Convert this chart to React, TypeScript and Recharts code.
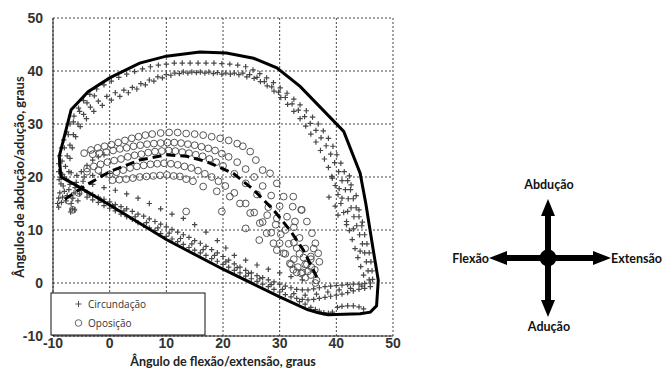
import { ScatterChart, Scatter, XAxis, YAxis, CartesianGrid } from 'recharts';

type Pt = [number, number];

const xTicks = [-10, 0, 10, 20, 30, 40, 50];
const yTicks = [-10, 0, 10, 20, 30, 40, 50];

// Circundação (+) bands
const circOuter: Pt[] = [
  [-8.9, 19.5], [-9, 21], [-9, 22.5], [-8.8, 24], [-8.5, 25.5], [-8.1, 27], [-7.6, 28.5], [-7, 30],
  [-6.3, 31.5], [-5.5, 33], [-4.6, 34.4], [-3.5, 35.6], [-2.3, 36.6], [-1, 37.4], [0.3, 38.1], [1.6, 38.8],
  [3, 39.4], [4.4, 39.9], [5.8, 40.4], [7.2, 40.8], [8.6, 41.1], [10, 41.3], [11.4, 41.5], [12.8, 41.5],
  [14.2, 41.5], [15.6, 41.5], [17, 41.5], [18.4, 41.5], [19.8, 41.4], [21.2, 41.3], [22.6, 41.1], [24, 40.8],
  [25.3, 40.2], [26.5, 39.5], [27.7, 38.7], [28.9, 37.8], [30.1, 36.8], [31.3, 35.8], [32.5, 34.7],
  [33.6, 33.6], [34.7, 32.5], [35.8, 31.3], [36.8, 30], [37.7, 28.7], [38.6, 27.3], [39.4, 25.8],
  [40.1, 24.2], [40.8, 22.6], [41.4, 21], [42, 19.3], [42.5, 17.6], [43, 15.9], [43.5, 14.2], [44, 12.5],
  [44.5, 10.8], [45, 9.1], [45.4, 7.4], [45.8, 5.7], [46.1, 4], [46.3, 2.3], [46.4, 0.7],
];

const circOuter2: Pt[] = [
  [-8.3, 20.5], [-8.4, 23], [-8, 25.5], [-7.3, 28], [-6.4, 30.4], [-5.3, 32.4], [-4, 34], [-2.7, 35.3],
  [26, 38.8], [27.3, 38], [28.6, 37], [29.8, 36], [31, 35], [32.2, 33.8], [33.3, 32.6], [34.4, 31.4],
  [35.4, 30.1], [36.4, 28.8], [37.3, 27.4], [38.2, 25.9], [39, 24.3], [39.7, 22.7], [40.4, 21], [41, 19.3],
  [41.6, 17.6], [42.1, 15.9], [42.6, 14.2], [43.1, 12.5], [43.6, 10.8], [44.1, 9.1], [44.6, 7.4], [45, 5.7],
  [45.3, 4], [45.6, 2.3], [45.8, 0.6],
];

const circInner: Pt[] = [
  [-8, 20], [-7.8, 22], [-7.5, 24], [-7, 26], [-6.4, 28], [-5.6, 30], [-4.6, 31.8], [-3.4, 33.2],
  [-2, 34.3], [-0.5, 35.2], [1, 35.9], [2.5, 36.4], [4, 36.9], [5.5, 37.6], [7, 38.3], [8.5, 38.9],
  [10, 39.3], [11.5, 39.6], [13, 39.8], [14.5, 39.8], [16, 39.8], [17.5, 39.8], [19, 39.7], [20.5, 39.6],
  [22, 39.6], [23.5, 39.6], [24.7, 39.3], [25.5, 38.6], [26.6, 38], [27.8, 37.2], [29, 36.2], [30.2, 35],
  [31.4, 33.7], [32.5, 32.4], [33.6, 31], [34.6, 29.6], [35.5, 28.1], [36.4, 26.6], [37.2, 25],
  [37.9, 23.4], [38.6, 21.8], [39.2, 20.1], [39.8, 18.4], [40.3, 16.7], [40.8, 15], [41.3, 13.3],
  [41.8, 11.6], [42.3, 9.9], [42.8, 8.2], [43.3, 6.5], [43.8, 4.8], [44.3, 3.1], [44.8, 1.5],
];

const circInner2: Pt[] = [
  [-7.2, 21], [-7, 23.5], [-6.6, 25.5], [-6, 27.6], [-5.2, 29.5], [-4.1, 31], [-2.8, 32.4], [-1.3, 33.5],
  [0.3, 34.5], [1.8, 35.2], [3.3, 35.9], [4.8, 36.6], [6.3, 37.4], [7.8, 38.1], [9.3, 38.7], [10.8, 39.2],
  [12.3, 39.5], [13.8, 39.6], [15.3, 39.7], [16.8, 39.6], [18.3, 39.5], [19.8, 39.4], [21.3, 39.4],
  [22.8, 39.3], [24.2, 38.9],
];

const circRightLoose: Pt[] = [
  [41, 16], [42, 13.5], [43.5, 16.5], [42.6, 18.5], [44, 13.8], [41.8, 11], [40.5, 17.8], [43, 10.2],
  [44.2, 6], [42.3, 20.2], [39.8, 14.5], [40.3, 12.8], [38.7, 16.2], [39.3, 19.8], [44.6, 11.5],
];

const circThin: Pt[] = [
  [-3, 18.6], [-1, 18], [1, 17.5], [3, 16.8], [5, 16], [7, 15], [9, 14], [11, 13], [13, 12.2], [15, 11],
  [17, 9.6], [19, 8], [20.5, 6.6], [22, 5.2], [24, 4.3], [26, 3.4], [28, 2.6], [30, 1.9], [32, 1.2],
  [34, 0.6],
];

const circLowA: Pt[] = [
  [-5, 17.6], [-4, 17.1], [-3, 16.7], [-2, 16.2], [-1, 15.8], [0, 15.3], [1, 14.8], [2, 14.4], [3, 14],
  [4, 13.5], [5, 13], [6, 12.6], [7, 12.1], [8, 11.6], [9, 11.1], [10, 10.6], [11, 10.1], [12, 9.6],
  [13, 9.1], [14, 8.6], [15, 8], [16, 7.5], [17, 6.9], [18, 6.3], [19, 5.7], [20, 5], [21, 4.3], [22, 3.6],
  [23, 3], [24, 2.4], [25, 1.9], [26, 1.4], [27, 1], [28, 0.6], [29, 0.2], [30, -0.2], [31, -0.6],
  [32, -0.9], [33, -1.2], [34, -1.3], [35, -1.3], [36, -1.1], [37, -0.9], [38, -0.7], [39, -0.6],
  [40, -0.5], [41, -0.4], [42, -0.3], [43, -0.2], [44, -0.2], [45, -0.1], [46, 0],
];

const circLowB: Pt[] = [
  [-4, 16.2], [-3, 15.7], [-2, 15.2], [-1, 14.6], [0, 14.1], [1, 13.6], [2, 13], [3, 12.5], [4, 12],
  [5, 11.4], [6, 10.9], [7, 10.4], [8, 9.9], [9, 9.3], [10, 8.8], [11, 8.3], [12, 7.8], [13, 7.3],
  [14, 6.7], [15, 6.2], [16, 5.7], [17, 5.2], [18, 4.6], [19, 4.1], [20, 3.5], [21, 3], [22, 2.4],
  [23, 1.9], [24, 1.3], [25, 0.8], [26, 0.3], [27, -0.2], [28, -0.7], [29, -1.2], [30, -1.7], [31, -2.2],
  [32, -2.6], [33, -2.9], [34, -3.1], [35, -3.2], [36, -3.1], [37, -2.9], [38, -2.7], [39, -2.5],
  [40, -2.3], [41, -2.1], [42, -1.8], [43, -1.5], [44, -1.2], [45, -1], [46, -0.7],
];

const circLowC: Pt[] = [
  [-3.5, 16.6], [-1.5, 15.6], [0.5, 14.6], [2.5, 13.6], [4.5, 12.5], [6.5, 11.4], [8.5, 10.4],
  [10.5, 9.4], [12.5, 8.4], [14.5, 7.4], [16.5, 6.3], [18.5, 5.2], [20.5, 4], [22.5, 2.9], [24.5, 1.8],
  [26.5, 0.8], [28.5, -0.3], [30.5, -1.2], [32.5, -2], [34.5, -2.3], [36.5, -2.1], [38.5, -1.7],
  [40.5, -1.3], [42.5, -1], [44.5, -0.6],
];

const circBottom: Pt[] = [
  [40.2, -4.6], [41, -4.4], [42, -4.3], [43, -4.3], [44, -4.5], [44.8, -4.9], [35.5, -4.6], [36.3, -5],
  [37, -5.3], [37.8, -5.6], [38.6, -5.7], [39.3, -5.5], [34.5, -4], [33.5, -3.5],
];

const circBlob: Pt[] = [
  [-9.2, 15], [-9, 16], [-8.8, 17], [-8.5, 15.2], [-8.3, 16.2], [-8, 17.3], [-8.2, 18.3], [-7.7, 15.5],
  [-7.5, 16.5], [-7.2, 17.6], [-7, 18.6], [-6.8, 15], [-6.5, 16], [-6.3, 17], [-6.1, 18], [-5.9, 19],
  [-6.6, 14], [-6.9, 13.4], [-6.2, 13.8], [-5.6, 15.5], [-5.3, 16.8], [-5, 18], [-4.7, 19.2],
  [-5.8, 20.3], [-6.8, 20.8], [-7.6, 19.6], [-8.6, 18.7], [-9, 14.3], [-5, 21], [-4, 22.2], [-3, 23.2],
  [-2, 23.8], [-1, 24.2], [-4.5, 20], [-3, 20.3], [-1.5, 20.5], [0, 20.7],
];

// Oposição (o) arcs
const opArc1: Pt[] = [
  [-4.5, 24.5], [-3.3, 25.1], [-2.1, 25.5], [-0.9, 25.8], [0.3, 26.1], [1.5, 26.5], [2.7, 26.9],
  [3.9, 27.3], [5.1, 27.6], [6.3, 27.9], [7.5, 28.1], [9, 28.3], [10.5, 28.4], [12, 28.4], [13.5, 28.2],
  [15, 28.1], [16.5, 27.9], [18, 27.6], [19.5, 27.3], [21, 26.9], [22.5, 26.3], [23.5, 25.8],
  [24.8, 24.8], [25.8, 23.2], [27, 21.3], [28.3, 20.7], [29.5, 18.8], [30.7, 16.3], [32.4, 16.3],
  [33.9, 13.8], [34.8, 11.6], [35.7, 9.4], [36.3, 7.5], [36.8, 5.6], [37, 4],
];

const opArc2: Pt[] = [
  [-3, 24.3], [-1.8, 24.5], [-0.6, 24.7], [0.6, 25], [1.8, 25.3], [3, 25.5], [4.2, 25.8], [5.4, 26],
  [6.6, 26.2], [7.8, 26.3], [9, 26.4], [10.2, 26.5], [11.4, 26.5], [12.6, 26.4], [13.8, 26.2], [15, 26],
  [16.2, 25.7], [17.4, 25.4], [18.6, 25], [19.8, 24.4], [21, 23.8], [22.5, 22.8], [24, 21.5], [25.5, 20],
  [27, 18.3], [28.5, 16.5], [30, 14.5], [31.3, 12.5], [32.5, 10.5], [33.5, 8.5], [34.5, 6.5], [35.5, 4.5],
  [36.2, 2.5], [36.5, 0.5],
];

const opArc3: Pt[] = [
  [-4, 21.6], [-2.8, 22], [-1.6, 22.4], [-0.4, 22.8], [0.8, 23.1], [2, 23.4], [3.2, 23.8], [4.4, 24.1],
  [5.6, 24.3], [6.8, 24.6], [8, 24.8], [9.2, 24.9], [10.4, 25], [11.6, 24.9], [12.8, 24.7], [14, 24.5],
  [15.2, 24.2], [16.4, 23.9], [17.6, 23.4], [18.8, 22.8], [20, 22.1], [22, 20.6], [24, 18.8], [26, 16.7],
  [28, 14.3], [29.5, 12.2], [31, 10], [32.5, 7.6], [33.5, 5.5], [34.5, 3.5], [35.5, 1.5],
];

const opArc4: Pt[] = [
  [0, 20.5], [1.2, 20.9], [2.4, 21.3], [3.6, 21.7], [4.8, 22], [6, 22.2], [7.2, 22.4], [8.4, 22.5],
  [9.6, 22.6], [10.8, 22.5], [12, 22.3], [13.2, 22], [14.4, 21.7], [15.6, 21.2], [16.8, 20.6], [18, 20],
  [19.2, 19.2], [20.4, 18.3], [22, 17], [24, 15], [25.5, 13.3], [27, 11.5], [28.5, 9.5], [30, 7.5],
  [31, 5.5], [32, 3.5], [33, 2],
];

const opArc5: Pt[] = [
  [0.5, 19.4], [1.7, 19.5], [2.9, 19.6], [4.1, 19.8], [5.3, 20], [6.5, 20.1], [7.7, 20.2], [8.9, 20.3],
  [10.1, 20.4], [11.3, 20.2], [12.4, 20.1], [13.5, 19.6], [14.7, 19.2], [16.5, 18.2], [18.9, 17.3],
  [21.2, 16.3], [23, 15], [24.8, 13.2], [26.5, 11.3], [27.7, 9.4], [28.9, 7.5], [30.7, 5.6], [31.8, 3.7],
  [32.4, 2.5],
];

const opLoose: Pt[] = [
  [19.8, 13.5], [24, 10.3], [26.4, 8.1], [29.5, 6.2], [33.8, 13.8], [32.7, 11.6], [36.3, 0],
  [32.5, 4.5], [33.2, 3], [34, 2], [34.8, 3.5], [35.5, 5], [36, 6.5], [33.8, 1.8], [34.5, 1],
  [35, 2.2], [-6.5, 13.8], [-7.2, 15.5], [-5.5, 17], [-4, 21], [-2, 21.3], [13.5, 13.5], [30.2, 9.2],
  [31.6, 7.4], [33, 6.6], [34.2, 4.8], [35.6, 3], [32.3, 14.4], [29.3, 11], [27.8, 12.8],
];

// convex outline and mean path
const hull: Pt[] = [
  [-8.9, 23.9], [-6.8, 32.7], [-3.8, 36.1], [0, 38.7], [5.3, 41.5], [10, 42.8], [15.9, 43.6],
  [20.6, 43.4], [25.4, 42.4], [29.5, 40.6], [33.6, 37.1], [41.3, 28.6], [44.2, 20.7], [45.2, 15],
  [46.5, 6.3], [47.4, 0.5], [47.1, -4.3], [46, -5.5], [44.2, -5.8], [38.5, -6], [36.8, -5.6],
  [34.9, -5], [30, -2.6], [20, 2.6], [10, 8.2], [0, 14.7], [-6.5, 18.8], [-8.6, 20], [-8.9, 23.9],
];

const meanPath: Pt[] = [
  [-7.9, 15.8], [-4.1, 18.5], [0, 21], [5.3, 23.2], [10, 24.2], [13.6, 23.9], [17.1, 22.9],
  [21.8, 20.7], [25.4, 17.6], [28.9, 13.8], [31.8, 10], [34.2, 6.2], [36.6, 1],
];

const toObj = (pts: Pt[]) => pts.map(([x, y]) => ({ x, y }));

const crossData = toObj([
  ...circOuter, ...circOuter2, ...circInner, ...circInner2, ...circRightLoose, ...circThin,
  ...circLowA, ...circLowB, ...circLowC, ...circBottom, ...circBlob,
]);
const circleData = toObj([...opArc1, ...opArc2, ...opArc3, ...opArc4, ...opArc5, ...opLoose]);

const CrossShape = (props: any) => {
  const { cx, cy } = props;
  if (cx == null || cy == null) return <g />;
  return (
    <path d={`M${cx - 2.7},${cy}H${cx + 2.7}M${cx},${cy - 2.7}V${cy + 2.7}`} stroke="#474747" strokeWidth={1.2} />
  );
};

const RingShape = (props: any) => {
  const { cx, cy } = props;
  if (cx == null || cy == null) return <g />;
  return <circle cx={cx} cy={cy} r={3.4} fill="none" stroke="#555" strokeWidth={1} />;
};

const Nothing = () => <g />;

const tickStyle = { fill: '#333', fontSize: 14, fontWeight: 700, fontFamily: 'Liberation Sans, Arial, sans-serif' };
const titleFont = 'Lato, sans-serif';

export default function App() {
  return (
    <div style={{ position: 'absolute', left: 0, top: 0, width: 665, height: 370, background: '#fff' }}>
      <ScatterChart width={665} height={370} margin={{ top: 18, right: 272, bottom: 4, left: 13 }}>
        <CartesianGrid stroke="#444" strokeDasharray="2 2" />
        <XAxis
          type="number"
          dataKey="x"
          domain={[-10, 50]}
          ticks={xTicks}
          height={30}
          axisLine={{ stroke: '#222', strokeWidth: 1 }}
          tickLine={false}
          tickSize={2}
          tick={tickStyle}
          tickMargin={0}
          interval={0}
        />
        <YAxis
          type="number"
          dataKey="y"
          domain={[-10, 50]}
          ticks={yTicks}
          width={40}
          axisLine={{ stroke: '#222', strokeWidth: 1 }}
          tickLine={false}
          tick={tickStyle}
          tickMargin={4}
          interval={0}
        />
        <Scatter data={crossData} shape={CrossShape} isAnimationActive={false} />
        <Scatter data={circleData} shape={RingShape} isAnimationActive={false} />
        <Scatter
          data={toObj(meanPath)}
          shape={Nothing}
          line={{ stroke: '#000', strokeWidth: 3, strokeDasharray: '9 5' }}
          isAnimationActive={false}
        />
        <Scatter
          data={toObj(hull)}
          shape={Nothing}
          line={{ stroke: '#000', strokeWidth: 3 }}
          isAnimationActive={false}
        />
      </ScatterChart>

      <svg width={665} height={370} style={{ position: 'absolute', left: 0, top: 0, pointerEvents: 'none' }}>
        <text x={223} y={366} textAnchor="middle" fontFamily={titleFont} fontWeight={700} fontSize={12.5} fill="#222">
          Ângulo de flexão/extensão, graus
        </text>
        <text
          x={24}
          y={177}
          textAnchor="middle"
          fontFamily={titleFont}
          fontWeight={700}
          fontSize={13}
          fill="#222"
          transform="rotate(-90 24 177)"
        >
          Ângulos de abdução/adução, graus
        </text>

        <rect x={51} y={293} width={154} height={42} fill="#fff" stroke="#111" strokeWidth={1} />
        <path d="M75.5,304H81.5M78.5,301V307" stroke="#555" strokeWidth={1} />
        <text x={88} y={308} fontFamily="Open Sans, sans-serif" fontSize={10} fill="#333">Circundação</text>
        <circle cx={78.5} cy={323} r={3.3} fill="none" stroke="#666" strokeWidth={1} />
        <text x={88} y={327} fontFamily="Open Sans, sans-serif" fontSize={10} fill="#333">Oposição</text>

        <g fill="#000" stroke="none">
          <rect x={545} y={212} width={6} height={92} />
          <rect x={502} y={255} width={92} height={6} />
          <polygon points="548,199 541,216 555,216" />
          <polygon points="548,317 541,300 555,300" />
          <polygon points="489,258 507,251 507,265" />
          <polygon points="611,258 593,251 593,265" />
          <circle cx={548} cy={258} r={8.5} />
        </g>
        <g fontFamily={titleFont} fontWeight={700} fontSize={12.5} fill="#111">
          <text x={549} y={189} textAnchor="middle">Abdução</text>
          <text x={489} y={263} textAnchor="end">Flexão</text>
          <text x={611} y={263} textAnchor="start">Extensão</text>
          <text x={549} y={331} textAnchor="middle">Adução</text>
        </g>
      </svg>
    </div>
  );
}
